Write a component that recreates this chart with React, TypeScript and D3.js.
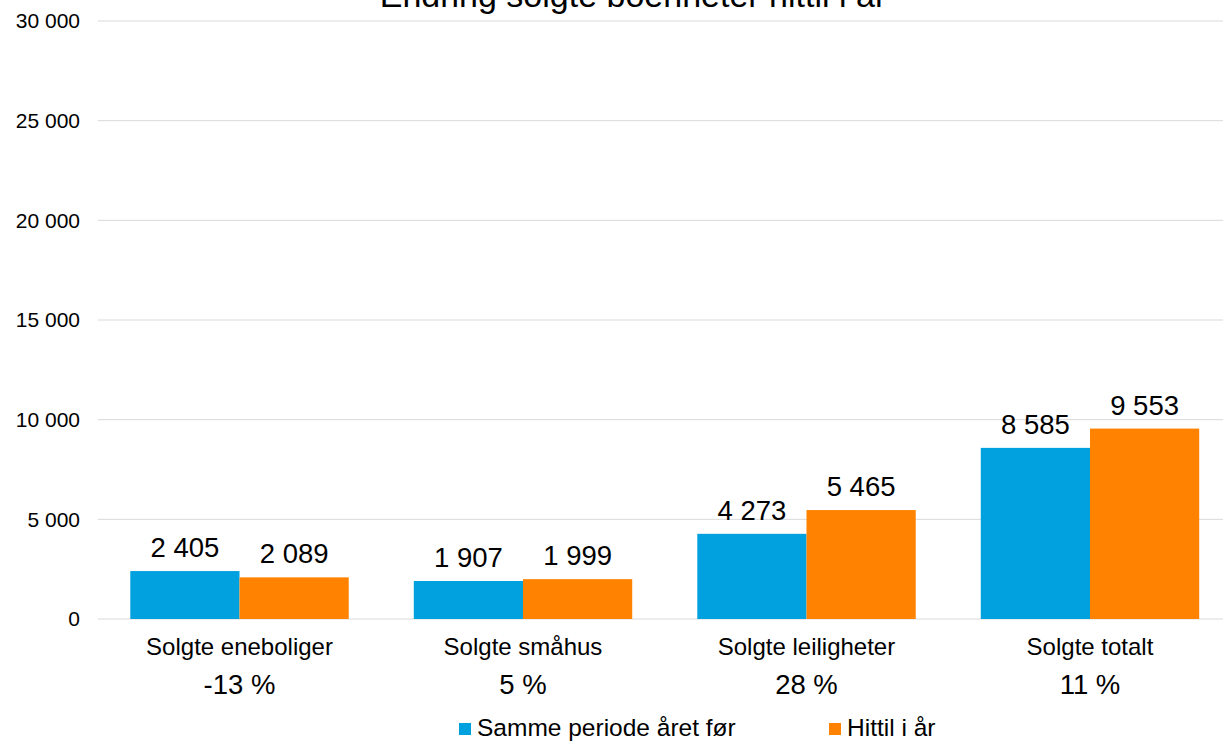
import React from "react";
import * as d3 from "d3";

const title = "Endring solgte boenheter hittil i år";
const categories = ["Solgte eneboliger", "Solgte småhus", "Solgte leiligheter", "Solgte totalt"];
const changeLabels = ["-13 %", "5 %", "28 %", "11 %"];
const seriesNames = ["Samme periode året før", "Hittil i år"];
const previousYear = [2405, 1907, 4273, 8585];
const thisYear = [2089, 1999, 5465, 9553];
const yTicks = [0, 5000, 10000, 15000, 20000, 25000, 30000];
const colors = ["#00A1DE", "#FF8200"];

const W = 1223;
const H = 741;
const FONT = "'Liberation Sans', Arial, sans-serif";

const locale = d3.formatLocale({ decimal: ",", thousands: "\u00a0", grouping: [3], currency: ["", " kr"] });
const fmt = locale.format(",d");

export default function App() {
  const left = 97.75;
  const right = 97.75 + 4 * 283.5;
  const top = 21;
  const bottom = 619;

  const x = d3.scaleBand<string>().domain(categories).range([left, right]).paddingInner(0.2295).paddingOuter(0.1148);
  const x1 = d3.scaleBand<string>().domain(seriesNames).range([0, x.bandwidth()]).padding(0);
  const y = d3.scaleLinear().domain([0, 30000]).range([bottom, top]);

  const series = [previousYear, thisYear];

  return (
    <div style={{ position: "fixed", left: 0, top: 0, width: W, height: H, overflow: "hidden" }}>
      <svg width={W} height={H} style={{ display: "block", background: "#fff" }} fontFamily={FONT}>
        <rect width={W} height={H} fill="#fff" />
        <text x={633} y={7} fontSize={34} textAnchor="middle" fill="#000">{title}</text>
        {yTicks.map((t) => (
          <g key={t}>
            <line x1={left} x2={W} y1={y(t)} y2={y(t)} stroke="#d9d9d9" strokeWidth={1} />
            <text x={80} y={y(t)} dy="0.35em" fontSize={21} textAnchor="end" fill="#000">{fmt(t)}</text>
          </g>
        ))}
        {categories.map((c, i) => (
          <g key={c} transform={`translate(${x(c)},0)`}>
            {series.map((s, j) => (
              <g key={j}>
                <rect x={x1(seriesNames[j])} y={y(s[i])} width={x1.bandwidth()} height={bottom - y(s[i])} fill={colors[j]} />
                <text x={(x1(seriesNames[j]) as number) + x1.bandwidth() / 2} y={y(s[i]) - 14} fontSize={27.5} textAnchor="middle" fill="#000">{fmt(s[i])}</text>
              </g>
            ))}
            <text x={x.bandwidth() / 2} y={655} fontSize={24} textAnchor="middle" fill="#000">{c}</text>
            <text x={x.bandwidth() / 2} y={694} fontSize={27.5} textAnchor="middle" fill="#000">{changeLabels[i]}</text>
          </g>
        ))}
        <g>
          <rect x={459} y={723} width={12} height={12} fill={colors[0]} />
          <text x={477} y={736} fontSize={24.5} fill="#000">{seriesNames[0]}</text>
          <rect x={829} y={723} width={12} height={12} fill={colors[1]} />
          <text x={847} y={736} fontSize={24.5} fill="#000">{seriesNames[1]}</text>
        </g>
      </svg>
    </div>
  );
}
